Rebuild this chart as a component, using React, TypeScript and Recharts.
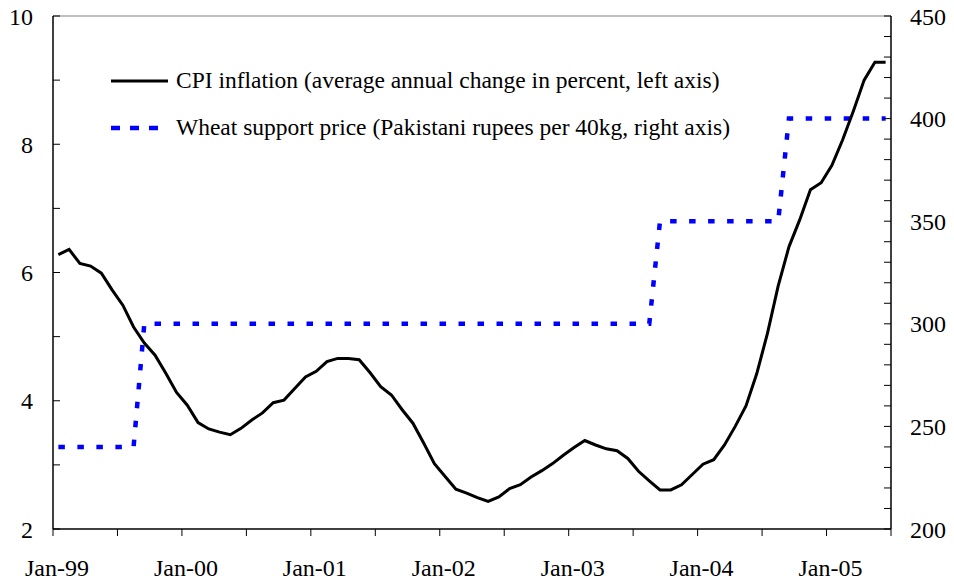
import React from "react"
import { Legend, Line, LineChart, ReferenceLine, XAxis, YAxis } from "recharts"

// monthly, Jan-99 .. Jun-05
const monthNames = ["Jan", "Feb", "Mar", "Apr", "May", "Jun", "Jul", "Aug", "Sep", "Oct", "Nov", "Dec"]
const years = ["99", "00", "01", "02", "03", "04", "05"]

const cpiInflation = [
  6.28, 6.36, 6.14, 6.1, 5.99, 5.73, 5.49, 5.15, 4.9, 4.71, 4.43, 4.13,
  3.93, 3.66, 3.56, 3.51, 3.47, 3.57, 3.7, 3.81, 3.97, 4.01, 4.19, 4.37,
  4.46, 4.61, 4.66, 4.66, 4.64, 4.44, 4.22, 4.09, 3.86, 3.65, 3.34, 3.02,
  2.82, 2.62, 2.56, 2.49, 2.43, 2.5, 2.63, 2.69, 2.81, 2.91, 3.02, 3.15,
  3.27, 3.38, 3.31, 3.25, 3.22, 3.1, 2.9, 2.75, 2.61, 2.61, 2.69, 2.85,
  3.01, 3.08, 3.31, 3.6, 3.92, 4.42, 5.05, 5.79, 6.4, 6.82, 7.29, 7.4,
  7.67, 8.07, 8.52, 9.0, 9.28, 9.28,
]

const wheatPrice = [
  240, 240, 240, 240, 240, 240, 240, 240, 300, 300, 300, 300,
  300, 300, 300, 300, 300, 300, 300, 300, 300, 300, 300, 300,
  300, 300, 300, 300, 300, 300, 300, 300, 300, 300, 300, 300,
  300, 300, 300, 300, 300, 300, 300, 300, 300, 300, 300, 300,
  300, 300, 300, 300, 300, 300, 300, 300, 350, 350, 350, 350,
  350, 350, 350, 350, 350, 350, 350, 350, 400, 400, 400, 400,
  400, 400, 400, 400, 400, 400,
]

const leftTicks = [2, 3, 4, 5, 6, 7, 8, 9, 10]
const rightTicks = [200, 210, 220, 230, 240, 250, 260, 270, 280, 290, 300, 310, 320, 330, 340, 350, 360, 370, 380, 390, 400, 410, 420, 430, 440, 450]
const xTicks = [0, 6, 12, 18, 24, 30, 36, 42, 48, 54, 60, 66, 72, 78]

const months: string[] = []
years.forEach((y) => monthNames.forEach((m) => months.push(`${m}-${y}`)))

// points sit in the middle of each month slot
const data = cpiInflation.map((cpi, i) => ({
  x: i + 0.5,
  month: months[i],
  cpi,
  wheat: wheatPrice[i],
}))

const font = "'Liberation Serif', 'Times New Roman', serif"
const tickStyle = { fill: "#000", fontSize: 24, fontFamily: font }

const renderLegend = () => (
  <div style={{ fontFamily: font, fontSize: 23.5, color: "#000", whiteSpace: "nowrap" }}>
    <div style={{ display: "flex", alignItems: "center", height: 47 }}>
      <svg width={57} height={10}>
        <line x1={0} y1={5} x2={57} y2={5} stroke="#000" strokeWidth={3} />
      </svg>
      <span style={{ marginLeft: 8 }}>CPI inflation (average annual change in percent, left axis)</span>
    </div>
    <div style={{ display: "flex", alignItems: "center", height: 47 }}>
      <svg width={57} height={10}>
        <line x1={0} y1={5} x2={57} y2={5} stroke="#0000ff" strokeWidth={4.5} strokeDasharray="9 10" />
      </svg>
      <span style={{ marginLeft: 8 }}>Wheat support price (Pakistani rupees per 40kg, right axis)</span>
    </div>
  </div>
)

export default function App() {
  return (
    <div style={{ position: "absolute", left: 0, top: 0, background: "#fff" }}>
      <LineChart width={954} height={584} data={data} margin={{ top: 16, right: 0, left: 0, bottom: 0 }}>
        <XAxis
          dataKey="x"
          type="number"
          domain={[0, 78]}
          ticks={xTicks}
          interval={0}
          tickFormatter={(v: number) => (v % 12 === 0 ? months[v] : "")}
          height={55}
          tickSize={7}
          tickMargin={23}
          axisLine={{ stroke: "#000", strokeWidth: 1.5 }}
          tickLine={{ stroke: "#000" }}
          tick={{ ...tickStyle, dx: 4 }}
        />
        <YAxis
          yAxisId="left"
          domain={[2, 10]}
          ticks={leftTicks}
          interval={0}
          tickFormatter={(v: number) => (v % 2 === 0 ? `${v}` : "")}
          width={53}
          tickSize={-7}
          tickMargin={27}
          axisLine={{ stroke: "#000", strokeWidth: 1.5 }}
          tickLine={{ stroke: "#000" }}
          tick={tickStyle}
        />
        <YAxis
          yAxisId="right"
          orientation="right"
          domain={[200, 450]}
          ticks={rightTicks}
          interval={0}
          tickFormatter={(v: number) => (v % 50 === 0 ? `${v}` : "")}
          width={63}
          tickSize={-7}
          tickMargin={26}
          axisLine={{ stroke: "#000", strokeWidth: 1.5 }}
          tickLine={{ stroke: "#000" }}
          tick={tickStyle}
        />
        <ReferenceLine yAxisId="left" y={10} stroke="#808080" strokeWidth={1} />
        <Legend
          layout="vertical"
          align="center"
          verticalAlign="middle"
          content={renderLegend}
          wrapperStyle={{ left: 111, top: 57, width: 780, height: 94 }}
        />
        <Line
          yAxisId="right"
          type="linear"
          dataKey="wheat"
          stroke="#0000ff"
          strokeWidth={4.5}
          strokeDasharray="6.5 12.5"
          dot={false}
          activeDot={false}
          isAnimationActive={false}
        />
        <Line
          yAxisId="left"
          type="linear"
          dataKey="cpi"
          stroke="#000"
          strokeWidth={3}
          dot={false}
          activeDot={false}
          isAnimationActive={false}
        />
      </LineChart>
    </div>
  )
}
